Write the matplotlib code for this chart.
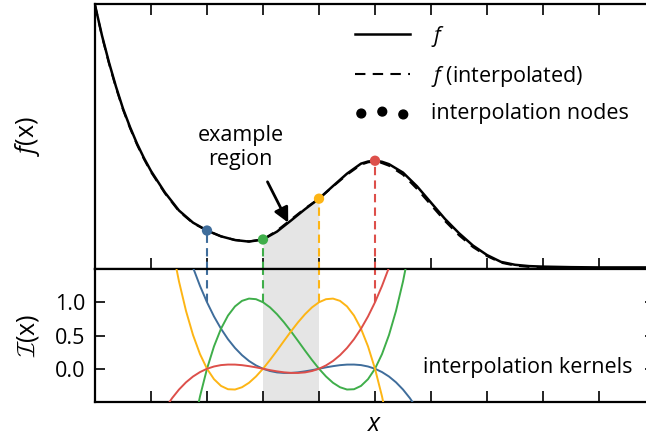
import matplotlib
matplotlib.use("Agg")
import matplotlib.pyplot as plt
import numpy as np

FONTSIZE = 15.5
LABELSIZE = 18
plt.rcParams['font.family'] = ['Open Sans', 'DejaVu Sans']
plt.rcParams['mathtext.fontset'] = 'custom'
plt.rcParams['mathtext.rm'] = 'Open Sans'
plt.rcParams['mathtext.it'] = 'Open Sans:italic'

# f(x)
f_x = [0, 0.125, 0.25, 0.375, 0.5, 0.625, 0.75, 0.875, 1.0, 1.25, 1.5, 1.75,
       2.0, 2.25, 2.5, 2.75, 3.0, 3.25, 3.5, 3.75, 4.0, 4.25, 4.5, 4.75, 4.875,
       5.0, 5.125, 5.25, 5.5, 5.75, 6.0, 6.25, 6.5, 6.75, 7.0, 7.25, 7.5, 7.75,
       8.0, 8.5, 9.0, 9.5, 10.0]
f_y = [0.996, 0.880, 0.778, 0.686, 0.603, 0.533, 0.470, 0.415, 0.366, 0.284,
       0.216, 0.170, 0.140, 0.118, 0.104, 0.098, 0.106, 0.136, 0.178, 0.221,
       0.261, 0.309, 0.356, 0.394, 0.402, 0.405, 0.401, 0.392, 0.360, 0.308,
       0.246, 0.184, 0.130, 0.083, 0.047, 0.021, 0.010, 0.005, 0.003, 0.001,
       0.0, 0.0, 0.0]
f_interp = [0.996, 0.877, 0.774, 0.682, 0.599, 0.529, 0.466, 0.411, 0.362, 0.281,
            0.213, 0.168, 0.140, 0.118, 0.104, 0.099, 0.106, 0.140, 0.182, 0.224,
            0.261, 0.307, 0.352, 0.390, 0.399, 0.402, 0.396, 0.386, 0.352, 0.298,
            0.237, 0.176, 0.122, 0.077, 0.043, 0.018, 0.007, 0.002, 0.0, -0.002,
            -0.003, -0.003, -0.003]

node_x = [2, 3, 4, 5]
node_y = [0.140, 0.106, 0.261, 0.405]
colors = ['#3f6d9b', '#3fae4a', '#fdb515', '#dd4f4a']

# interpolation kernels, sampled every 1/8
kern_x = np.arange(-6, 31) / 8 + 2
kern_blue = [3.008, 2.577, 2.188, 1.837, 1.523, 1.245, 1.0, 0.786, 0.602, 0.444,
             0.3125, 0.204, 0.117, 0.050, 0.0, -0.034, -0.055, -0.063, -0.0625,
             -0.054, -0.039, -0.021, 0.0, 0.021, 0.039, 0.054, 0.0625, 0.063,
             0.055, 0.034, 0.0, -0.050, -0.117, -0.204, -0.3125, -0.444, -0.602]
kern_green = [-3.867, -2.974, -2.188, -1.503, -0.914, -0.415, 0.0, 0.337, 0.602,
              0.800, 0.9375, 1.021, 1.055, 1.046, 1.0, 0.923, 0.820, 0.698, 0.5625,
              0.419, 0.273, 0.132, 0.0, -0.116, -0.211, -0.278, -0.3125, -0.308,
              -0.258, -0.157, 0.0, 0.220, 0.508, 0.870, 1.3125, 1.841, 2.461]
kern_yellow = [2.461, 1.841, 1.3125, 0.870, 0.508, 0.220, 0.0, -0.157, -0.258,
               -0.308, -0.3125, -0.278, -0.211, -0.116, 0.0, 0.132, 0.273, 0.419,
               0.5625, 0.698, 0.820, 0.923, 1.0, 1.046, 1.055, 1.021, 0.9375, 0.800,
               0.602, 0.337, 0.0, -0.415, -0.914, -1.503, -2.188, -2.974, -3.867]
kern_red = [-0.602, -0.444, -0.3125, -0.204, -0.117, -0.050, 0.0, 0.034, 0.055,
            0.063, 0.0625, 0.054, 0.039, 0.021, 0.0, -0.021, -0.039, -0.054, -0.0625,
            -0.063, -0.055, -0.034, 0.0, 0.050, 0.117, 0.204, 0.3125, 0.444, 0.602,
            0.786, 1.0, 1.245, 1.523, 1.837, 2.188, 2.577, 3.008]
kernels = [kern_blue, kern_green, kern_yellow, kern_red]

fig = plt.figure(figsize=(6.46, 4.42), dpi=100)
W, H = 646.0, 442.0
ax1 = fig.add_axes([95/W, (H-269)/H, 560/W, 265/H])
ax2 = fig.add_axes([95/W, (H-402)/H, 560/W, 133/H])

# top panel
fx = np.array(f_x)
fy = np.array(f_y)
m = (fx >= 3) & (fx <= 4)
ax1.fill_between(fx[m], 0, fy[m], color='#e5e5e5', lw=0, zorder=0)
ax1.plot(f_x, f_y, color='black', lw=1.8, label='$f$', zorder=3)
ax1.plot(f_x, f_interp, color='black', lw=1.5, ls=(0, (5, 3.5)),
         label='$f$ (interpolated)', zorder=3)
for i in range(len(node_x)):
    ax1.plot([node_x[i], node_x[i]], [-0.01, node_y[i]], color=colors[i], lw=1.5,
             ls=(0, (4, 2.5)), zorder=2)
ax1.scatter(node_x, node_y, c=colors, s=55, zorder=5, linewidths=0)
ax1.scatter([], [], c='black', s=40, label='interpolation nodes')

ax1.text(2.6, 0.455, 'example\nregion', ha='center', va='center',
         fontsize=FONTSIZE, linespacing=1.2)
ax1.annotate('', xy=(3.45, 0.17), xytext=(3.08, 0.325),
             arrowprops=dict(arrowstyle='-|>', color='black', lw=2,
                             mutation_scale=22, shrinkA=0, shrinkB=0))

ax1.set_xlim(0, 10)
ax1.set_ylim(-0.006, 1.0)
ax1.set_xticks(range(11))
ax1.set_yticks([])
ax1.tick_params(axis='x', direction='in', top=True, bottom=True,
                labelbottom=False, length=8, width=1.2)
ax1.set_ylabel('$f$(x)', fontsize=LABELSIZE)
ax1.yaxis.set_label_coords(-0.094, 0.5)
ax1.legend(loc='upper left', bbox_to_anchor=(0.464, 0.925), frameon=False,
           fontsize=FONTSIZE, handlelength=2.55, handletextpad=1.0,
           labelspacing=0.68, borderpad=0, borderaxespad=0, scatterpoints=3)

# bottom panel
ax2.axvspan(3, 4, color='#e5e5e5', lw=0, zorder=0)
for i in range(len(kernels)):
    ax2.plot(kern_x, kernels[i], color=colors[i], lw=1.4, zorder=3)
    ax2.plot([node_x[i], node_x[i]], [1.0, 1.6], color=colors[i], lw=1.5,
             ls=(0, (4, 2.5)), zorder=2)
ax2.text(9.6, 0.02, 'interpolation kernels', ha='right', va='center',
         fontsize=FONTSIZE)
ax2.set_xlim(0, 10)
ax2.set_ylim(-0.5, 1.5)
ax2.set_xticks(range(11))
ax2.set_yticks([0.0, 0.5, 1.0])
ax2.tick_params(axis='x', direction='in', top=False, bottom=True,
                labelbottom=False, length=8, width=1.2)
ax2.tick_params(axis='y', direction='in', left=True, right=True,
                length=7, width=1.2, labelsize=15.5, pad=7)
ax2.set_ylabel(r'$\mathcal{I}$(x)', fontsize=LABELSIZE, math_fontfamily='cm')
ax2.yaxis.set_label_coords(-0.097, 0.5)
ax2.set_xlabel('$x$', fontsize=LABELSIZE, labelpad=7)

for ax in (ax1, ax2):
    for s in ax.spines.values():
        s.set_linewidth(1.6)

fig.savefig('out.png', dpi=100)
